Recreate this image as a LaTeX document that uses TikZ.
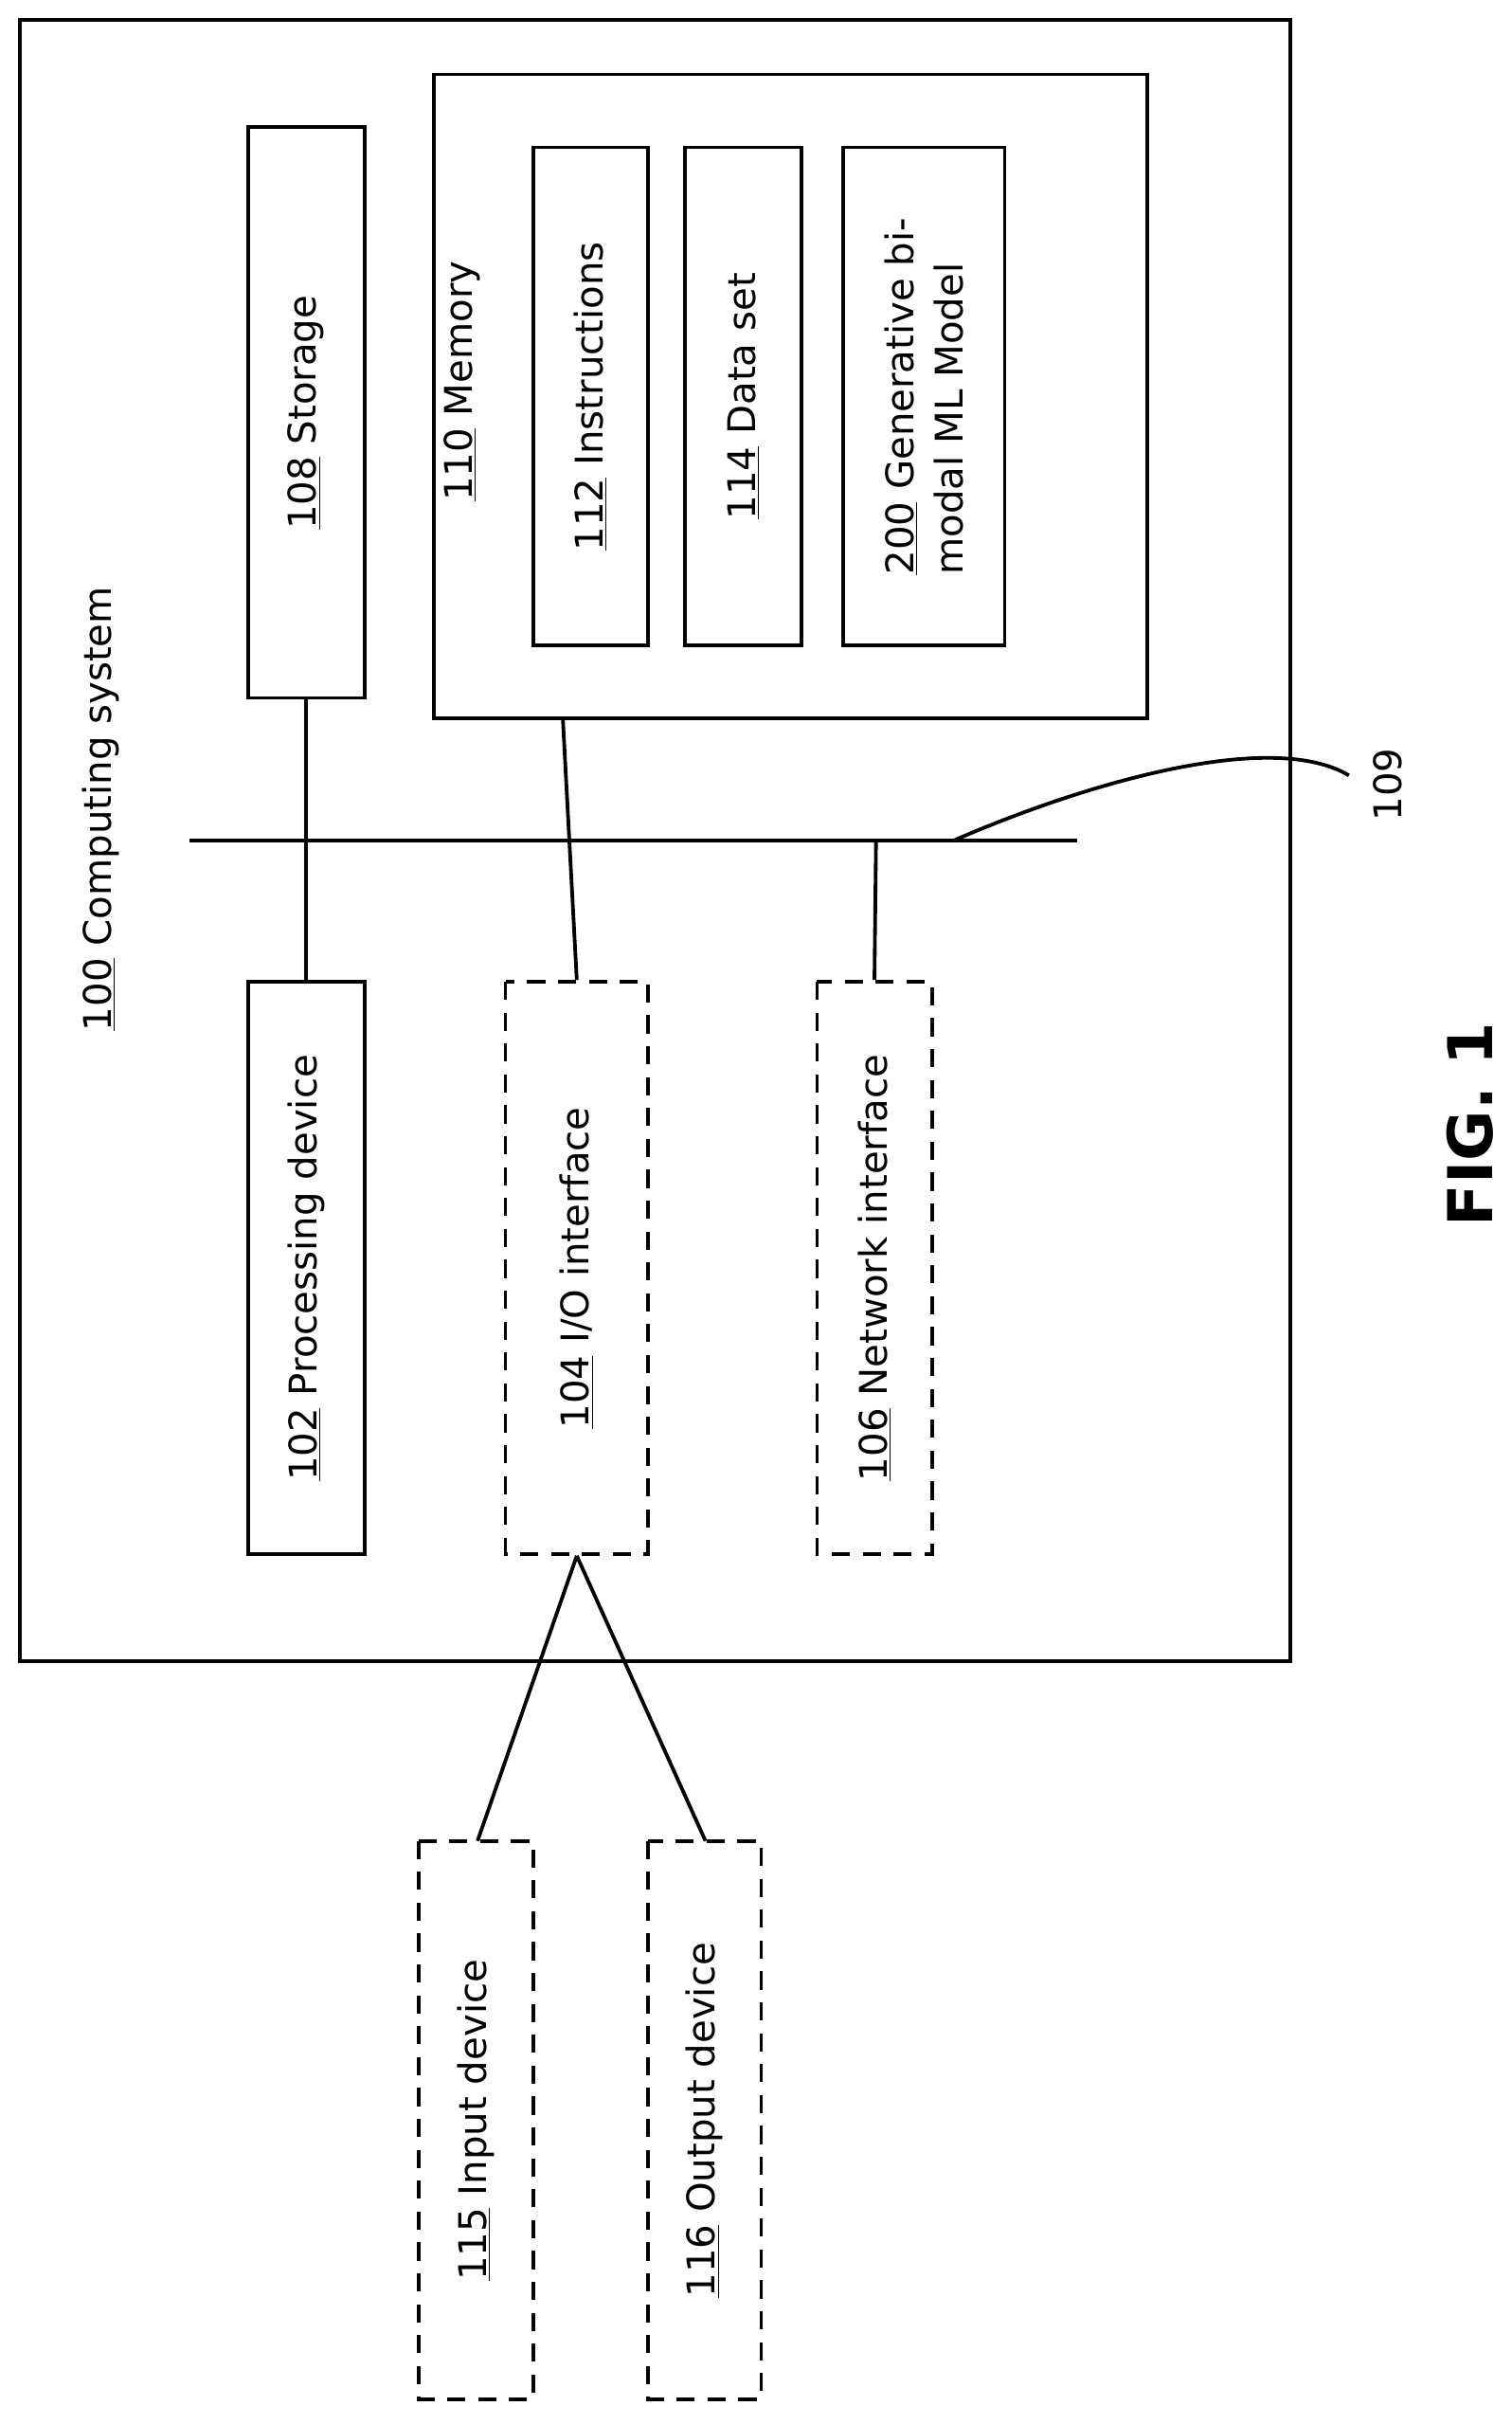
\documentclass[tikz,border=0pt]{standalone}
\usepackage{fontspec}
\setmainfont{DejaVu Sans}
\usetikzlibrary{positioning}
\tikzstyle{blk}=[draw,line width=2pt,rotate=90,align=center,font=\fontsize{21}{27}\selectfont,inner sep=0pt]
\tikzstyle{dsh}=[blk,dash pattern=on 10pt off 7pt]
\tikzstyle{lbl}=[rotate=90,font=\fontsize{21}{27}\selectfont,inner sep=0pt]
\tikzstyle{wire}=[line width=2pt]
\begin{document}
\begin{tikzpicture}[x=0.03cm,y=-0.03cm]
\useasboundingbox (0,0) rectangle (975,1563);
% outer system
\node[blk,minimum width=1058*0.03cm,minimum height=819*0.03cm] (sys) at (422.5,542) {};
\node[lbl,anchor=east] (syslbl) at (65,378) {\underline{100} Computing system};
% memory
\node[blk,minimum width=415*0.03cm,minimum height=460*0.03cm] (mem) at (510,255.5) {};
\node[lbl,anchor=east] (memlbl) at (298,168) {\underline{110} Memory};
\node[blk,minimum width=321*0.03cm,minimum height=74*0.03cm] (instr) at (381,255.5) {\underline{112} Instructions};
\node[blk,minimum width=321*0.03cm,minimum height=75*0.03cm] (data) at (479.5,255.5) {\underline{114} Data set};
\node[blk,minimum width=321*0.03cm,minimum height=104*0.03cm,align=left] (model) at (596,255.5) {\underline{200} Generative bi-\\modal ML Model};
% storage and devices
\node[blk,minimum width=368*0.03cm,minimum height=75*0.03cm] (stor) at (197.5,266) {\underline{108} Storage};
\node[blk,minimum width=369*0.03cm,minimum height=75*0.03cm] (proc) at (197.5,817.5) {\underline{102} Processing device};
\node[dsh,minimum width=369*0.03cm,minimum height=92*0.03cm] (io) at (372,817.5) {\underline{104} I/O interface};
\node[dsh,minimum width=369*0.03cm,minimum height=74*0.03cm] (net) at (564,817.5) {\underline{106} Network interface};
\node[dsh,minimum width=360*0.03cm,minimum height=74*0.03cm] (inp) at (307,1367) {\underline{115} Input device};
\node[dsh,minimum width=360*0.03cm,minimum height=73*0.03cm] (outp) at (454.5,1367) {\underline{116} Output device};
% bus
\coordinate (busL) at (122,542);
\coordinate (busR) at (695,542);
\coordinate (busT) at (615,542);
\draw[wire] (busL) -- (busR);
\draw[wire] (stor.west) -- (proc.east);
\draw[wire] (363,463) -- (io.east);
\draw[wire] (net.east) -- (565,542);
\draw[wire] (busT) .. controls (700,505) and (820,470) .. (870,500);
\node[lbl,anchor=center] (buslbl) at (895,506) {109};
% external devices
\draw[wire] (io.west) -- (308,1187);
\draw[wire] (io.west) -- (455,1187);
\node[rotate=90,font=\bfseries\fontsize{34}{40}\selectfont,inner sep=0pt] (fig) at (948,725) {FIG. 1};
\end{tikzpicture}
\end{document}
